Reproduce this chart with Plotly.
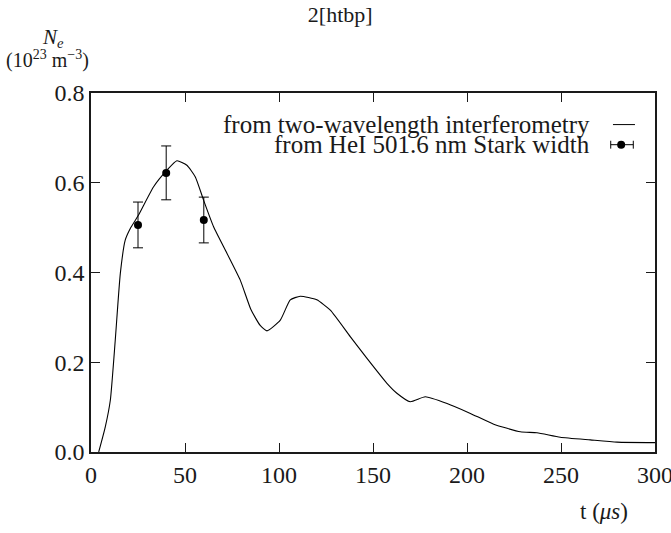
import plotly.graph_objects as go

# Interferometry curve (t in microseconds, Ne in 1e23 m^-3)
t_interf = [4.1, 7.6, 10.3, 12.9, 15.6, 18.2, 20.9, 25.3, 33.3, 40.4, 45.7, 51.0, 55.5, 59.9,
            65.2, 72.3, 79.4, 85.0, 90.0, 93.6, 100.7, 106.0, 111.3, 120.1, 127.3, 137.9, 146.7,
            157.4, 162.7, 169.8, 177.8, 189.4, 201.8, 214.2, 228.4, 237.2, 249.6, 265.6,
            279.8, 300.0]
ne_interf = [0.0, 0.056, 0.116, 0.249, 0.398, 0.472, 0.498, 0.528, 0.591, 0.628, 0.649, 0.639,
             0.613, 0.561, 0.502, 0.443, 0.383, 0.318, 0.282, 0.270, 0.294, 0.339, 0.347, 0.339,
             0.316, 0.257, 0.209, 0.153, 0.131, 0.112, 0.123, 0.108, 0.086, 0.062, 0.045,
             0.043, 0.033, 0.027, 0.022, 0.021]

# Stark width points
t_stark = [25, 40, 60]
ne_stark = [0.506, 0.622, 0.517]
err_stark = [0.051, 0.06, 0.051]

legend_labels = ["from two-wavelength interferometry", "from HeI 501.6 nm Stark width"]
x_ticks = [0, 50, 100, 150, 200, 250, 300]
y_ticks = [0.0, 0.2, 0.4, 0.6, 0.8]

FONT = "Liberation Serif"
INK = "#1a1a1a"

fig = go.Figure()
fig.add_trace(go.Scatter(
    x=t_interf, y=ne_interf, mode="lines",
    line=dict(color="black", width=1.1, shape="spline", smoothing=0.5),
    showlegend=False))
fig.add_trace(go.Scatter(
    x=t_stark, y=ne_stark, mode="markers",
    marker=dict(color="black", size=8),
    error_y=dict(type="data", array=err_stark, color="black", thickness=1, width=5),
    showlegend=False))

axis_common = dict(
    showline=True, linecolor=INK, linewidth=1.5, mirror="allticks",
    ticks="inside", ticklen=9, tickcolor=INK, tickwidth=1,
    showgrid=False, zeroline=False, ticklabeloverflow="allow", automargin=False,
    tickfont=dict(family=FONT, size=24, color=INK),
)

fig.update_layout(
    width=671, height=533,
    margin=dict(l=91, r=16, t=93, b=81, autoexpand=False),
    paper_bgcolor="white", plot_bgcolor="white",
    font=dict(family=FONT, size=24, color=INK),
    title=dict(text="2[htbp]", x=0.507, xanchor="center", y=0.974, yanchor="middle",
               font=dict(family=FONT, size=22, color=INK)),
    xaxis=dict(range=[0, 300], tickvals=x_ticks, ticktext=[str(v) for v in x_ticks], **axis_common),
    yaxis=dict(range=[0, 0.8], tickvals=y_ticks, ticktext=[f"{v:.1f}" for v in y_ticks], **axis_common),
    showlegend=False,
)

# axis titles
fig.add_annotation(text="<i>N</i><sub><i>e</i></sub>", xref="paper", yref="paper",
                   x=-0.068, y=1.152, xanchor="center", yanchor="middle", showarrow=False,
                   font=dict(family=FONT, size=21, color=INK))
fig.add_annotation(text="(10<sup>23</sup> m<sup>−3</sup>)", xref="paper", yref="paper",
                   x=-0.078, y=1.094, xanchor="center", yanchor="middle", showarrow=False,
                   font=dict(family=FONT, size=20, color=INK))
fig.add_annotation(text="t (<i>μs</i>)", xref="paper", yref="paper",
                   x=0.91, y=-0.167, xanchor="center", yanchor="middle", showarrow=False,
                   font=dict(family=FONT, size=23, color=INK))

# manual legend (text right-aligned, sample to the right)
fig.add_annotation(text=legend_labels[0], xref="paper", yref="paper", x=0.889, y=0.912,
                   xanchor="right", yanchor="middle", showarrow=False,
                   font=dict(family=FONT, size=25, color=INK))
fig.add_annotation(text=legend_labels[1], xref="paper", yref="paper", x=0.889, y=0.856,
                   xanchor="right", yanchor="middle", showarrow=False,
                   font=dict(family=FONT, size=25, color=INK))
fig.add_shape(type="line", xref="paper", yref="paper", x0=0.9255, x1=0.9645, y0=0.912, y1=0.912,
              line=dict(color="black", width=1))
fig.add_shape(type="line", xref="paper", yref="paper", x0=0.9215, x1=0.9615, y0=0.856, y1=0.856,
              line=dict(color="black", width=1))
for xc in (0.9215, 0.9615):
    fig.add_shape(type="line", xref="paper", yref="paper", x0=xc, x1=xc, y0=0.845, y1=0.867,
                  line=dict(color="black", width=1))
fig.add_shape(type="circle", xref="paper", yref="paper", xsizemode="pixel", ysizemode="pixel",
              xanchor=0.94, yanchor=0.856, x0=-4, x1=4, y0=-4, y1=4,
              fillcolor="black", line=dict(color="black", width=0))

fig.write_html("out.html", config={"displayModeBar": False},
               post_script="document.body.style.margin='0px';")
